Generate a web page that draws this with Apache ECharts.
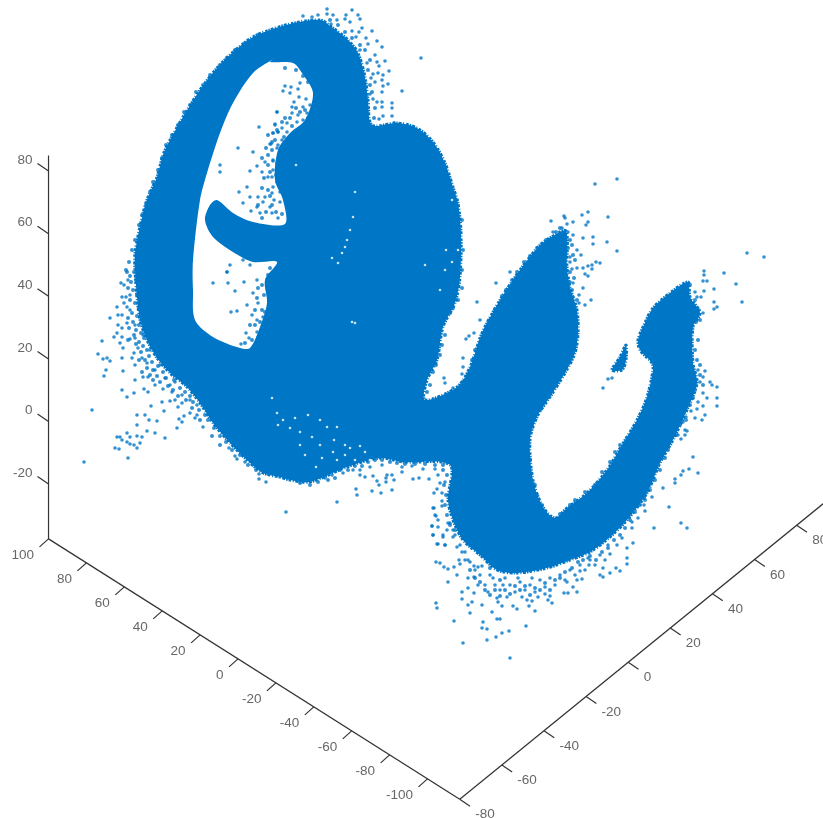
<!DOCTYPE html>
<html><head><meta charset="utf-8">
<style>html,body{margin:0;padding:0;background:#fff;overflow:hidden}#c{width:823px;height:818px}</style>
<script src="https://cdn.jsdelivr.net/npm/echarts@6/dist/echarts.min.js"></script>
</head><body><div id="c"></div>
<script>
// Axis tick values
const xTicks=[100,80,60,40,20,0,-20,-40,-60,-80,-100];
const yTicks=[-80,-60,-40,-20,0,20,40,60,80];
const zTicks=[80,60,40,20,0,-20];
// Dense core of the point cloud, read as outline in the projected view plane
const cloudOutline=[[280,477],[263,473],[247,460],[230,443],[213,423],[200,403],[187,387],[170,373],[157,358],[147,340],[140,320],[137,297],[135,270],[135,253],[143,213],[148,197],[157,177],[163,155],[170,140],[183,117],[200,90],[217,68],[233,52],[253,37],[270,30],[290,24],[320,20],[333,28],[348,40],[358,53],[365,77],[368,100],[372,125],[397,123],[417,128],[433,142],[445,163],[453,187],[458,203],[461,233],[460,277],[455,303],[443,327],[437,360],[427,380],[425,400],[457,387],[470,367],[482,333],[500,300],[520,270],[540,245],[553,236],[566,231],[567,267],[570,287],[577,310],[578,333],[575,353],[565,373],[550,397],[537,417],[530,440],[533,480],[543,507],[555,518],[567,508],[587,493],[607,470],[622,445],[637,420],[647,397],[653,370],[652,363],[640,350],[638,340],[643,327],[653,308],[670,293],[688,282],[690,297],[700,313],[693,327],[693,363],[697,383],[687,410],[673,440],[660,463],[647,493],[627,520],[610,537],[590,552],[570,560],[547,568],[517,573],[497,570],[480,555],[463,540],[453,520],[448,500],[450,465],[403,462],[380,458],[347,467],[310,482],[290,480]];
const cloudHole=[[275,58],[253,73],[233,103],[220,133],[207,173],[200,200],[193,260],[193,290],[195,320],[213,337],[240,348],[250,348],[260,327],[267,303],[265,280],[277,262],[253,262],[233,252],[213,237],[205,220],[210,205],[217,200],[233,213],[253,222],[285,224],[283,200],[275,180],[278,150],[290,133],[305,120],[313,93],[302,73],[293,63],[270,62]];
const cloudIsland=[[626,345],[620,357],[612,370],[622,370],[626,360]];
// Thin gaps inside the dense core
const gapPoints=[[355,192],[353,217],[347,240],[342,253],[338,263],[332,258],[350,230],[345,247],[296,165],[272,398],[277,413],[283,420],[295,418],[308,415],[320,420],[327,427],[337,427],[278,425],[290,428],[300,432],[312,437],[320,445],[334,440],[345,445],[300,445],[333,452],[345,455],[350,448],[360,446],[365,452],[370,460],[355,460],[337,460],[322,458],[305,455],[316,467],[355,323],[352,322],[440,290],[445,270],[425,265],[446,250],[452,262],[458,250],[452,200]];
// Individually visible points around the core
const strayX=[327,352,303,312,318,327,333,346,358,337,345,350,360,331,362,372,359,352,356,366,377,368,382,360,375,377,385,367,379,389,421,402,378,373,383,371,382,375,388,383,382,370,373,377,382,392,392,382,383,392,379,394,285,291,283,290,298,300,299,306,294,292,303,310,277,292,298,307,275,287,303,297,282,273,278,287,282,270,277,280,273,277,283,272,277,283,273,280,285,274,280,287,272,278,259,277,275,273,278,271,278,238,253,220,220,257,250,265,273,262,268,273,247,239,250,258,265,243,251,257,263,272,270,260,230,227,243,250,213,227,228,244,235,231,237,247,246,249,241,257,253,258,252,257,257,263,92,84,102,98,103,107,110,106,104,110,117,121,124,122,126,124,127,118,122,127,118,122,117,114,122,130,120,123,135,138,134,122,132,135,123,142,147,135,143,148,122,127,134,144,148,155,163,170,151,162,170,175,182,164,178,137,145,149,157,179,182,184,190,197,195,137,177,203,147,155,165,117,120,127,130,137,142,122,127,130,134,140,137,115,119,128,229,235,237,245,259,259,266,155,150,143,135,130,130,128,165,175,182,190,197,160,172,286,337,356,357,372,381,392,360,360,365,373,377,379,386,386,387,392,394,402,402,413,419,429,423,435,412,438,440,445,437,434,442,442,442,434,436,438,432,438,433,443,437,445,448,453,320,325,343,353,370,382,350,332,313,496,477,480,474,469,466,463,463,444,445,462,453,510,617,595,588,582,564,565,608,551,573,588,567,586,562,553,568,573,583,593,607,593,577,617,581,570,570,596,600,588,592,583,577,572,592,585,588,570,573,583,579,579,585,591,747,764,724,704,704,703,707,714,736,742,714,717,714,704,701,695,697,692,699,703,705,703,710,712,717,717,717,698,700,703,707,698,703,697,691,705,695,702,686,683,685,687,678,681,685,603,608,612,693,698,689,683,681,675,675,663,669,681,687,654,652,644,645,638,632,632,633,627,627,627,622,617,608,610,620,616,610,603,600,603,588,589,580,582,577,577,573,568,564,567,552,550,548,535,529,527,532,517,513,502,498,492,482,472,468,470,462,462,468,474,448,457,436,437,454,483,482,497,500,487,526,509,502,496,487,463,510,436,440,444,448,454,460,459,465,468,474,478,468,474,433,435,432,433,438,445,443,447,453,457,462,450,490,495,500,505,510,515,520,525,530,535,540,545,550,555,560,565,570,575,580,585,590,595,600,605,485,480,475,470,465,478,488,497,507,522,538,545,532,518,503,493,482,460,455];
const strayY=[9,10,16,17,15,14,15,15,15,20,19,22,19,24,28,31,32,31,37,38,41,44,47,50,55,62,61,63,66,71,58,91,73,74,75,78,80,82,84,86,92,94,99,102,102,103,108,107,116,116,119,123,86,87,91,93,89,83,97,99,102,107,107,105,112,113,115,113,124,123,120,122,128,133,132,132,140,144,148,153,161,163,170,177,182,183,187,192,197,200,202,207,213,218,127,112,125,133,132,144,145,148,152,165,172,166,171,162,160,172,177,170,187,192,197,197,197,203,211,207,202,193,207,213,265,272,260,265,283,272,283,282,291,312,311,305,333,338,344,280,293,303,315,320,332,317,410,462,341,354,359,358,361,370,376,318,307,283,285,297,297,303,307,315,315,323,325,328,333,337,337,339,343,348,338,348,353,358,358,365,371,358,363,380,377,377,390,397,393,389,392,385,389,385,406,402,401,400,403,411,407,415,415,420,421,419,422,416,413,415,418,425,428,427,431,433,438,437,437,433,437,436,437,440,442,444,445,443,448,448,449,458,448,456,459,462,474,479,482,370,350,335,325,310,295,280,378,382,395,400,405,365,392,512,502,489,495,491,493,490,470,475,477,476,481,485,478,482,475,475,480,467,472,479,478,479,469,469,466,475,483,482,489,493,493,501,506,508,516,520,526,527,535,535,544,545,523,530,477,478,473,470,467,465,463,475,478,283,302,320,333,336,339,358,367,378,383,374,388,272,179,184,212,215,216,218,217,221,222,222,224,225,228,232,232,235,238,237,242,244,250,251,255,257,262,262,263,266,265,268,268,269,269,274,276,282,283,288,295,303,305,300,253,257,273,271,275,281,281,289,284,302,302,307,309,291,297,292,297,306,310,313,371,377,382,385,387,398,406,370,382,393,398,402,406,409,411,415,418,420,417,422,430,431,435,439,435,388,379,378,457,473,469,471,475,479,483,488,507,523,528,528,497,505,511,518,522,528,543,548,558,564,538,545,545,554,571,568,573,568,575,577,558,565,571,579,580,592,587,593,593,582,603,596,600,611,606,600,601,609,606,606,602,612,605,602,605,613,599,592,588,593,582,575,603,608,621,622,628,619,619,629,626,631,633,637,640,643,658,562,563,567,569,567,564,560,560,560,566,567,578,577,508,515,526,535,544,545,537,530,537,547,552,523,575,585,590,578,585,592,582,590,585,592,580,587,578,585,575,580,570,575,565,570,560,565,555,560,585,575,570,562,552,585,592,598,597,597,597,594,578,578,585,578,566,545,535];
// Points crowding the rim of the core
const rimPoints=[[127,272],[130,276],[134,272],[131,282],[136,280],[128,288],[133,290],[137,295],[130,300],[135,303],[139,308],[132,313],[137,316],[128,318],[133,322],[139,325],[136,330],[141,333],[129,328],[134,335],[144,338],[139,342],[128,340],[143,346],[147,350],[136,344],[141,352],[149,356],[145,360],[152,362],[139,360],[147,368],[153,370],[158,366],[142,372],[150,375],[157,376],[163,372],[166,378],[160,382],[153,380],[168,386],[174,380],[173,390],[180,388],[185,392],[178,396],[190,396],[186,400],[193,402],[199,410],[192,408],[205,415],[208,420],[200,420],[214,428],[220,436],[226,442],[232,450],[240,455],[248,465],[256,470],[212,436],[220,445],[126,270],[129,262],[132,250],[135,240],[139,225],[142,215],[146,205],[150,192],[153,182],[158,170],[162,158],[166,145],[172,135],[178,125],[184,112],[190,105],[196,92],[203,85],[210,75],[220,65],[227,58],[235,50],[245,43],[258,35],[556,232],[560,228],[565,235],[570,240],[572,245],[568,248],[573,255],[575,260],[570,272],[574,278],[572,290],[577,300],[690,285],[695,300],[697,310],[700,320],[696,322],[698,340],[695,350],[697,360],[700,365],[700,375],[703,385],[695,390],[693,398],[690,405],[686,420],[680,425],[676,435],[668,450],[665,458],[660,470],[655,480],[650,490],[645,500],[470,570],[475,578],[480,582],[485,590],[490,595],[495,590],[500,596],[505,590],[510,594],[515,586],[520,590],[525,586],[530,595],[535,588],[540,590],[545,583],[550,590],[555,580],[560,578],[565,572],[572,568],[578,562],[583,560],[590,556],[596,560],[602,552],[608,548],[614,540],[620,535],[625,528],[630,520],[635,512],[640,505],[644,498],[490,568],[500,580],[455,530],[450,525],[447,515],[445,505],[446,495],[444,485],[447,475],[443,470],[300,483],[310,485],[318,482],[328,480],[335,478],[340,470],[348,470],[355,466],[362,466],[368,462],[375,460],[382,460],[390,462],[397,463],[405,464],[415,464],[425,464],[435,465],[443,465],[368,70],[370,85],[372,92],[375,108],[374,118],[370,60],[365,50],[360,45],[352,38],[345,32],[338,25],[330,20],[305,110],[308,118],[300,112],[296,108],[290,118],[285,118],[282,122],[277,130],[284,137],[275,140],[287,143],[272,150],[285,150],[268,155],[262,285],[258,288],[264,295],[257,298],[262,310],[255,310],[260,322],[255,325],[265,312],[250,325],[252,340],[258,338],[245,343],[256,345],[445,335],[442,345],[440,355],[436,365],[433,372],[430,385],[427,392],[425,382],[432,350],[438,335],[443,320],[450,313],[453,308],[458,300],[462,288],[462,270],[463,250],[462,220],[463,382],[468,375],[472,360],[475,350],[480,342],[485,330],[490,320],[495,310],[502,296],[506,290],[512,280],[517,272],[524,262],[530,256],[537,248],[546,240],[620,445],[615,452],[610,462],[602,472],[595,485],[585,492],[575,500],[570,505],[560,514],[535,485],[537,495],[542,505],[530,460],[527,445],[532,425],[540,410],[268,135],[272,142],[266,148],[262,158],[268,165],[264,178],[270,172],[262,188],[268,190],[258,205],[266,212],[272,205],[262,218],[276,212],[282,214],[270,196],[276,175],[281,160],[292,126],[300,128],[312,110],[315,100],[317,88],[308,82],[303,76],[296,70],[285,68],[266,340],[270,320],[272,300],[268,275],[274,286],[270,268]];

function project(x,y,z){return [406.5-1.895*x+2.106*y, 404.5-1.2*x-1.7125*y-3.13*z];}
const xAxisY=-80,axisZ=-37.5,yAxisX=-117,zAxisX=100;
const segments=[];
const tickLabels=[];
function seg(a,b){segments.push([a[0],a[1],b[0],b[1]]);}
seg(project(zAxisX,xAxisY,axisZ),project(-117,xAxisY,axisZ));
seg(project(yAxisX,xAxisY,axisZ),project(yAxisX,93,axisZ));
seg(project(zAxisX,xAxisY,axisZ),project(zAxisX,xAxisY,85));
xTicks.forEach(v=>{const p=project(v,xAxisY,axisZ);seg(p,[p[0]-9,p[1]+8]);tickLabels.push({value:[p[0]-14.5,p[1]+16.5,String(v)],label:{align:'right'}});});
yTicks.forEach(v=>{const p=project(yAxisX,v,axisZ);seg(p,[p[0]+10.3,p[1]+7]);tickLabels.push({value:[p[0]+15.5,p[1]+15.5,String(v)],label:{align:'left'}});});
zTicks.forEach(v=>{const p=project(zAxisX,xAxisY,v);seg(p,[p[0]-11,p[1]-7.5]);tickLabels.push({value:[p[0]-16,p[1]-11,String(v)],label:{align:'right'}});});

const BLUE='#0076C6';
function polygonSeries(name,points,color,z,rim){
  return {name,type:'custom',coordinateSystem:'cartesian2d',silent:true,z,clip:false,
    data:[[0,0]],encode:{x:0,y:1},
    renderItem:(p,api)=>({type:'polygon',shape:{points:points.map(q=>api.coord(q)),smooth:0.3},
      style:{fill:color,stroke:rim,lineWidth:rim?3:0,lineDash:[1.5,1,3,1.5,1,2,2.5,1]}})};
}
const chart=echarts.init(document.getElementById('c'),null,{renderer:'canvas'});
chart.setOption({
  animation:false,backgroundColor:'#fff',
  grid:{left:0,right:0,top:0,bottom:0},
  xAxis:{type:'value',min:0,max:823,show:false},
  yAxis:{type:'value',min:0,max:818,inverse:true,show:false},
  series:[
    {name:'axes',type:'custom',coordinateSystem:'cartesian2d',silent:true,z:1,clip:false,data:segments,encode:{x:0,y:1},
     renderItem:(p,api)=>{const a=api.coord([api.value(0),api.value(1)]),b=api.coord([api.value(2),api.value(3)]);
       return {type:'line',shape:{x1:a[0],y1:a[1],x2:b[0],y2:b[1]},style:{stroke:'#333',lineWidth:1.2}};}},
    {name:'ticklabels',type:'scatter',silent:true,z:2,symbolSize:1,itemStyle:{color:'rgba(0,0,0,0)'},data:tickLabels,
     label:{show:true,position:'inside',verticalAlign:'middle',formatter:p=>p.value[2],color:'#404040',fontFamily:'Liberation Sans',fontSize:13.5}},
    polygonSeries('cloud',cloudOutline,BLUE,3,BLUE),
    polygonSeries('hole',cloudHole,'#fff',4,null),
    polygonSeries('island',cloudIsland,BLUE,5,BLUE),
    {name:'gaps',type:'scatter',silent:true,z:6,symbol:'circle',symbolSize:2.6,itemStyle:{color:'#fff'},data:gapPoints},
    {name:'rim',type:'scatter',silent:true,z:7,symbol:'circle',symbolSize:4,itemStyle:{color:BLUE},data:rimPoints},
    {name:'points',type:'scatter',silent:true,z:8,symbol:'circle',symbolSize:3.6,itemStyle:{color:BLUE},
     data:strayX.map((x,i)=>[x,strayY[i]])}
  ]
});
</script></body></html>
